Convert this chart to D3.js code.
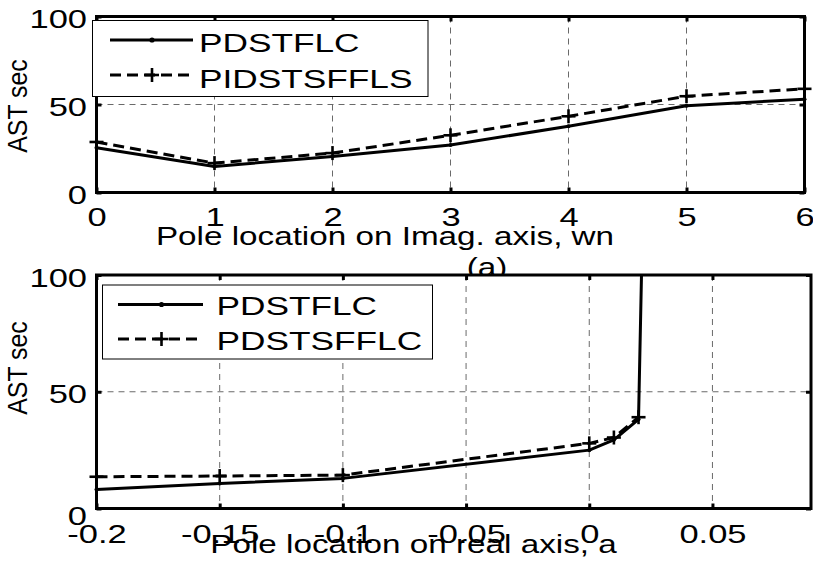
<!DOCTYPE html>
<html>
<head>
<meta charset="utf-8">
<script src="https://cdn.jsdelivr.net/npm/d3@7/dist/d3.min.js"></script>
<style>
  html, body { margin: 0; padding: 0; background: #fff; }
  svg { display: block; }
  text { font-family: "Liberation Sans", Arial, Helvetica, sans-serif; fill: #000; }
</style>
</head>
<body>
<svg id="fig" width="813" height="568"></svg>
<script>
// ---- data: panel (a), pole location on the imaginary axis ----
const wnPoints = [0, 1, 2, 3, 4, 5, 6];
const wnTicks = [0, 1, 2, 3, 4, 5, 6];
const astPDSTFLCwn = [25.4, 14.8, 20.5, 27.0, 37.6, 49.3, 53.0];
const astPIDSTSFFLSwn = [28.7, 16.7, 22.4, 32.5, 43.3, 54.7, 58.9];

// ---- data: lower panel, pole location on the real axis ----
const aPointsSolid = [-0.2, -0.15, -0.1, 0, 0.01, 0.02, 0.0212];
const astPDSTFLCa = [8.1, 10.7, 12.9, 25.0, 29.4, 38.2, 100];
const aPointsDashed = [-0.2, -0.15, -0.1, 0, 0.01, 0.02];
const astPDSTSFFLCa = [13.6, 13.9, 14.3, 27.9, 30.4, 39.1];
const aTicks = [-0.2, -0.15, -0.1, -0.05, 0, 0.05];
const aTickLabels = ["-0.2", "-0.15", "-0.1", "-0.05", "0", "0.05"];

const astTicks = [0, 50, 100];
const legendNamesTop = ["PDSTFLC", "PIDSTSFFLS"];
const legendNamesBottom = ["PDSTFLC", "PDSTSFFLC"];

// ---- drawing ----
const FONT = 25;      // px
const SX = 1.33;      // horizontal text stretch of the figure export
const SX_TICK = 1.38;
const SX_LEGEND = 1.41;
const svg = d3.select("#fig");
svg.append("rect").attr("width", 813).attr("height", 568).attr("fill", "#fff");

function wideText(parent, str, x, y, anchor, sx) {
  return parent.append("text")
    .attr("transform", `translate(${x},${y}) scale(${sx || SX},1)`)
    .attr("text-anchor", anchor || "middle")
    .style("font-size", FONT + "px")
    .text(str);
}

function panel(cfg) {
  const g = svg.append("g");
  const x = d3.scaleLinear().domain(cfg.xDomain).range([cfg.left, cfg.right]);
  const y = d3.scaleLinear().domain([0, 100]).range([cfg.bottom, cfg.top]);

  // white axes background (covers anything drawn above it earlier)
  g.append("rect")
    .attr("x", cfg.left).attr("y", cfg.top)
    .attr("width", cfg.right - cfg.left).attr("height", cfg.bottom - cfg.top)
    .attr("fill", "#fff");

  // dashed grid
  const grid = g.append("g").attr("stroke", "#6a6a6a").attr("stroke-width", 1)
    .attr("stroke-dasharray", "6,5");
  cfg.xTicks.filter(t => t > cfg.xDomain[0] && t < cfg.xDomain[1]).forEach(t => {
    grid.append("line").attr("x1", x(t)).attr("x2", x(t))
      .attr("y1", cfg.top).attr("y2", cfg.bottom);
  });
  astTicks.filter(t => t > 0 && t < 100).forEach(t => {
    grid.append("line").attr("x1", cfg.left).attr("x2", cfg.right)
      .attr("y1", y(t)).attr("y2", y(t));
  });

  // series
  const line = d3.line().x(d => x(d[0])).y(d => y(d[1]));
  const solid = cfg.solidX.map((v, i) => [v, cfg.solidY[i]]);
  const dashed = cfg.dashedX.map((v, i) => [v, cfg.dashedY[i]]);

  g.append("path").datum(solid).attr("d", line)
    .attr("fill", "none").attr("stroke", "#000").attr("stroke-width", 3)
    .attr("stroke-linejoin", "round");
  g.append("path").datum(dashed).attr("d", line)
    .attr("fill", "none").attr("stroke", "#000").attr("stroke-width", 3)
    .attr("stroke-dasharray", "11,6");

  g.append("g").selectAll("circle").data(solid.filter(d => d[1] < 100)).join("circle")
    .attr("cx", d => x(d[0])).attr("cy", d => y(d[1])).attr("r", 2).attr("fill", "#000");
  const plus = g.append("g").attr("stroke", "#000").attr("stroke-width", 2.6);
  dashed.forEach(d => {
    plus.append("line").attr("x1", x(d[0]) - 7).attr("x2", x(d[0]) + 7)
      .attr("y1", y(d[1])).attr("y2", y(d[1]));
    plus.append("line").attr("x1", x(d[0])).attr("x2", x(d[0]))
      .attr("y1", y(d[1]) - 7).attr("y2", y(d[1]) + 7);
  });

  // axes with inward ticks on all four sides
  const styleAxis = sel => {
    sel.select(".domain").remove();
    sel.selectAll(".tick line").attr("stroke", "#000").attr("stroke-width", 3);
  };
  const xb = g.append("g").attr("transform", `translate(0,${cfg.bottom})`)
    .call(d3.axisBottom(x).tickValues(cfg.xTicks).tickFormat((d, i) => cfg.xLabels[i])
      .tickSizeInner(-5).tickSizeOuter(0));
  styleAxis(xb);
  xb.selectAll("text").attr("y", null).attr("dy", null)
    .attr("transform", `translate(0,${cfg.xTickDy}) scale(${SX_TICK},1)`)
    .style("font-size", FONT + "px").attr("font-family", null).attr("fill", "#000");

  const xt = g.append("g").attr("transform", `translate(0,${cfg.top})`)
    .call(d3.axisTop(x).tickValues(cfg.xTicks).tickFormat("").tickSizeInner(-5).tickSizeOuter(0));
  styleAxis(xt);

  const yl = g.append("g").attr("transform", `translate(${cfg.left},0)`)
    .call(d3.axisLeft(y).tickValues(astTicks).tickFormat(d3.format("d"))
      .tickSizeInner(-5).tickSizeOuter(0));
  styleAxis(yl);
  yl.selectAll("text").attr("x", null).attr("dy", null)
    .attr("transform", d => `translate(-9.5,${d === 0 ? cfg.zeroDy : 11}) scale(${SX_TICK},1)`)
    .style("font-size", FONT + "px").attr("font-family", null).attr("fill", "#000");

  const yr = g.append("g").attr("transform", `translate(${cfg.right},0)`)
    .call(d3.axisRight(y).tickValues(astTicks).tickFormat("").tickSizeInner(-5).tickSizeOuter(0));
  styleAxis(yr);

  // box
  g.append("rect")
    .attr("x", cfg.left).attr("y", cfg.top)
    .attr("width", cfg.right - cfg.left).attr("height", cfg.bottom - cfg.top)
    .attr("fill", "none").attr("stroke", "#000").attr("stroke-width", 3);

  // axis titles
  wideText(g, cfg.xTitle, cfg.xTitleX, cfg.xTitleY, "middle");
  g.append("text")
    .attr("transform", `translate(${cfg.yTitleX},${cfg.yTitleY}) rotate(-90) scale(0.92,1)`)
    .attr("text-anchor", "middle")
    .style("font-size", "27px")
    .text("AST sec");

  // legend
  const L = cfg.legend;
  const lg = g.append("g");
  lg.append("rect").attr("x", L.x0).attr("y", L.y0)
    .attr("width", L.x1 - L.x0).attr("height", L.y1 - L.y0)
    .attr("fill", "#fff").attr("stroke", "#000").attr("stroke-width", 1);
  // row 1: solid with point marker
  lg.append("line").attr("x1", L.lx0).attr("x2", L.lx1).attr("y1", L.row1).attr("y2", L.row1)
    .attr("stroke", "#000").attr("stroke-width", 3);
  lg.append("circle").attr("cx", L.mx).attr("cy", L.row1).attr("r", 2.6).attr("fill", "#000");
  wideText(lg, cfg.names[0], L.tx, L.base1, "start", SX_LEGEND);
  // row 2: dashed with plus marker
  lg.append("line").attr("x1", L.lx0).attr("x2", L.lx1).attr("y1", L.row2).attr("y2", L.row2)
    .attr("stroke", "#000").attr("stroke-width", 3).attr("stroke-dasharray", "11,6");
  lg.append("line").attr("x1", L.mx - 7).attr("x2", L.mx + 7).attr("y1", L.row2).attr("y2", L.row2)
    .attr("stroke", "#000").attr("stroke-width", 2.6);
  lg.append("line").attr("x1", L.mx).attr("x2", L.mx).attr("y1", L.row2 - 7).attr("y2", L.row2 + 7)
    .attr("stroke", "#000").attr("stroke-width", 2.6);
  wideText(lg, cfg.names[1], L.tx, L.base2, "start", SX_LEGEND);
  return g;
}

// upper panel
panel({
  left: 96.5, right: 804.5, top: 16.5, bottom: 192.5,
  xDomain: [0, 6], xTicks: wnTicks, xLabels: wnTicks.map(String), xTickDy: 33,
  zeroDy: 11,
  solidX: wnPoints, solidY: astPDSTFLCwn,
  dashedX: wnPoints, dashedY: astPIDSTSFFLSwn,
  xTitle: "Pole location on Imag. axis, wn", xTitleX: 385, xTitleY: 244.5,
  yTitleX: 27, yTitleY: 106,
  names: legendNamesTop,
  legend: { x0: 92.5, x1: 428, y0: 20.5, y1: 96.5, lx0: 110, lx1: 193, mx: 152,
            row1: 40, row2: 75, tx: 199, base1: 51.5, base2: 87.5 }
});

// sub-caption of the upper panel (partly hidden by the lower axes)
wideText(svg, "(a)", 487, 276, "middle");

// lower panel
panel({
  left: 96.5, right: 811, top: 275, bottom: 508.5,
  xDomain: [-0.2, 0.09], xTicks: aTicks, xLabels: aTickLabels, xTickDy: 34.5,
  zeroDy: 16,
  solidX: aPointsSolid, solidY: astPDSTFLCa,
  dashedX: aPointsDashed, dashedY: astPDSTSFFLCa,
  xTitle: "Pole location on real axis, a", xTitleX: 413.5, xTitleY: 553,
  yTitleX: 27, yTitleY: 368,
  names: legendNamesBottom,
  legend: { x0: 102.5, x1: 432.5, y0: 285, y1: 359, lx0: 118, lx1: 203, mx: 161.5,
            row1: 304.5, row2: 339, tx: 216.5, base1: 315, base2: 350 }
});
</script>
</body>
</html>
